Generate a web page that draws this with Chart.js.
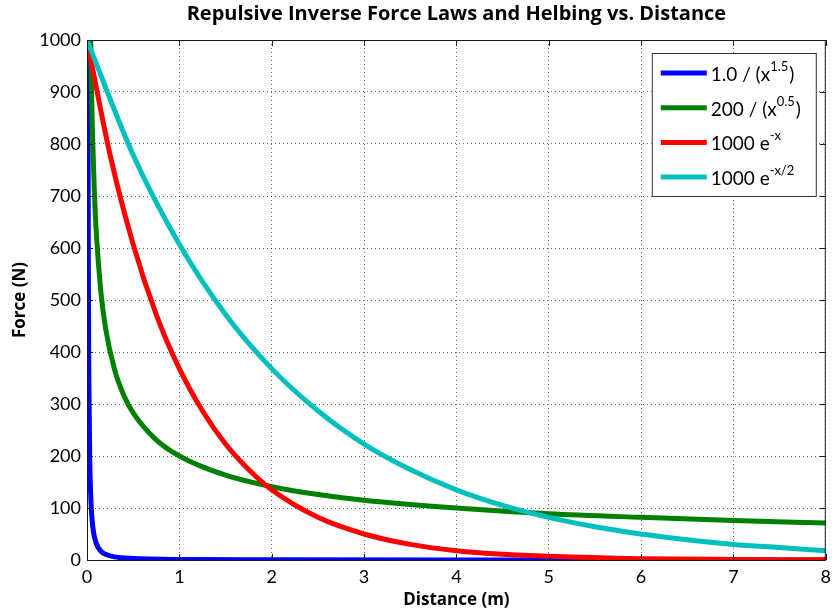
<!DOCTYPE html>
<html>
<head>
<meta charset="utf-8">
<script src="https://cdn.jsdelivr.net/npm/chart.js@4.4.1/dist/chart.umd.min.js"></script>
<style>
  body { margin: 0; background: #fff; }
  #wrap { width: 837px; height: 615px; }
</style>
</head>
<body>
<div id="wrap"><canvas id="chart" width="837" height="615"></canvas></div>
<script>
// --- values ---
const blueX  = [0.01, 0.015, 0.02, 0.03, 0.04, 0.05, 0.07, 0.1, 0.15, 0.2, 0.3, 0.5, 1, 2, 4, 8];
const blueY  = [1000, 544, 354, 192, 125, 89, 54, 32, 17, 11, 6, 3, 1, 0.4, 0.1, 0.05];

const greenX = [0.04, 0.05, 0.06, 0.08, 0.1, 0.15, 0.2, 0.3, 0.4, 0.5, 0.75, 1, 1.5, 2, 2.5, 3, 4, 5, 6, 7, 8];
const greenY = [1000, 894, 816, 707, 632, 516, 447, 365, 316, 283, 231, 200, 163, 141, 126, 115, 100, 89, 82, 76, 71];

const redX   = [0, 0.25, 0.5, 0.75, 1, 1.25, 1.5, 1.75, 2, 2.5, 3, 3.5, 4, 4.5, 5, 6, 7, 8];
const redY   = [1000, 779, 607, 472, 368, 287, 223, 174, 135, 82, 50, 30, 18, 11, 7, 2.5, 1, 0.3];

const cyanX  = [0, 0.5, 1, 1.5, 2, 2.5, 3, 3.5, 4, 4.5, 5, 5.5, 6, 6.5, 7, 7.5, 8];
const cyanY  = [1000, 779, 607, 472, 368, 287, 223, 174, 135, 105, 82, 64, 50, 39, 30, 24, 18];

const xTicks = [0, 1, 2, 3, 4, 5, 6, 7, 8];
const yTicks = [0, 100, 200, 300, 400, 500, 600, 700, 800, 900, 1000];

// legend labels, [text, isSuperscript]
const seriesLabels = [
    [["1.0 / (x", 0], ["1.5", 1], [")", 0]],
    [["200 / (x", 0], ["0.5", 1], [")", 0]],
    [["1000 e", 0], ["-x", 1]],
    [["1000 e", 0], ["-x/2", 1]]
];
const seriesColors = ["#0000ff", "#008000", "#ff0000", "#00bfbf"];

const chartTitle = "Repulsive Inverse Force Laws and Helbing vs. Distance";
const xTitle = "Distance (m)";
const yTitle = "Force (N)";

function toPoints(xs, ys) {
    return xs.map((x, i) => ({ x: x, y: ys[i] }));
}

const FONT = "Lato, 'DejaVu Sans', sans-serif";
const TITLE_FONT = "'Open Sans', Lato, sans-serif";

// --- draws title, axis titles, box, inward ticks and legend ---
const matlabDecor = {
    id: "matlabDecor",
    afterDraw(chart) {
        const ctx = chart.ctx;
        const a = chart.chartArea;
        const xs = chart.scales.x, ys = chart.scales.y;
        ctx.save();

        // axes box
        ctx.strokeStyle = "#1a1a1a";
        ctx.lineWidth = 1;
        ctx.strokeRect(a.left + 0.5, a.top + 0.5, a.right - a.left - 1, a.bottom - a.top);

        // inward tick marks on all four sides
        ctx.beginPath();
        xTicks.forEach(v => {
            const px = Math.round(xs.getPixelForValue(v)) + 0.5;
            ctx.moveTo(px, a.bottom); ctx.lineTo(px, a.bottom - 6);
            ctx.moveTo(px, a.top); ctx.lineTo(px, a.top + 6);
        });
        yTicks.forEach(v => {
            const py = Math.round(ys.getPixelForValue(v)) + 0.5;
            ctx.moveTo(a.left, py); ctx.lineTo(a.left + 6, py);
            ctx.moveTo(a.right, py); ctx.lineTo(a.right - 6, py);
        });
        ctx.stroke();

        // titles
        ctx.fillStyle = "#000";
        ctx.textAlign = "center";
        ctx.textBaseline = "middle";
        ctx.font = "bold 20px " + TITLE_FONT;
        ctx.fillText(chartTitle, (a.left + a.right) / 2, 14);
        ctx.font = "bold 17px " + TITLE_FONT;
        ctx.fillText(xTitle, (a.left + a.right) / 2, 600);
        ctx.save();
        ctx.translate(20, (a.top + a.bottom) / 2);
        ctx.rotate(-Math.PI / 2);
        ctx.fillText(yTitle, 0, 0);
        ctx.restore();

        // legend box
        const bw = 164, bh = 143;
        const bx = a.right - 10 - bw, by = a.top + 13;
        ctx.fillStyle = "#fff";
        ctx.fillRect(bx, by, bw, bh);
        ctx.strokeStyle = "#333";
        ctx.strokeRect(bx + 0.5, by + 0.5, bw, bh);

        ctx.textAlign = "left";
        ctx.textBaseline = "alphabetic";
        seriesLabels.forEach((parts, i) => {
            const cy = by + 20 + i * 34.7;
            ctx.strokeStyle = seriesColors[i];
            ctx.lineWidth = 5;
            ctx.beginPath();
            ctx.moveTo(bx + 9, cy);
            ctx.lineTo(bx + 55, cy);
            ctx.stroke();

            let tx = bx + 59;
            ctx.fillStyle = "#000";
            parts.forEach(([txt, sup]) => {
                ctx.font = (sup ? "13px " : "19px ") + FONT;
                ctx.fillText(txt, tx, sup ? cy - 2 : cy + 8);
                tx += ctx.measureText(txt).width + (sup ? 1 : 0);
            });
        });
        ctx.restore();
    }
};

const datasets = [
    { data: toPoints(blueX, blueY), order: 4 },
    { data: toPoints(greenX, greenY), order: 3 },
    { data: toPoints(redX, redY), order: 2 },
    { data: toPoints(cyanX, cyanY), order: 1 }
].map((d, i) => Object.assign(d, {
    borderColor: seriesColors[i],
    backgroundColor: seriesColors[i],
    borderWidth: 5,
    pointRadius: 0,
    fill: false,
    cubicInterpolationMode: "monotone",
    clip: { left: 0, top: 0, right: 0, bottom: 0 }
}));

new Chart(document.getElementById("chart"), {
    type: "line",
    data: { datasets: datasets },
    options: {
        responsive: false,
        animation: false,
        layout: { padding: { top: 40, right: 5, left: 0, bottom: 0 } },
        plugins: {
            legend: { display: false },
            title: { display: false },
            tooltip: { enabled: false }
        },
        scales: {
            x: {
                type: "linear",
                min: 0, max: 8,
                afterFit: s => { s.height = 55; },
                afterBuildTicks: s => { s.ticks = xTicks.map(v => ({ value: v })); },
                ticks: { color: "#000", padding: 6, maxRotation: 0, callback: v => String(v),
                         font: { family: FONT, size: 18 } },
                grid: { color: "rgba(0,0,0,0.6)", drawTicks: false, lineWidth: 1 },
                border: { display: false, dash: [1, 3] }
            },
            y: {
                min: 0, max: 1000,
                afterFit: s => { s.width = 87; },
                afterBuildTicks: s => { s.ticks = yTicks.map(v => ({ value: v })); },
                ticks: { color: "#000", padding: 6, callback: v => String(v),
                         font: { family: FONT, size: 18 } },
                grid: { color: "rgba(0,0,0,0.6)", drawTicks: false, lineWidth: 1 },
                border: { display: false, dash: [1, 3] }
            }
        }
    },
    plugins: [matlabDecor]
});
</script>
</body>
</html>
